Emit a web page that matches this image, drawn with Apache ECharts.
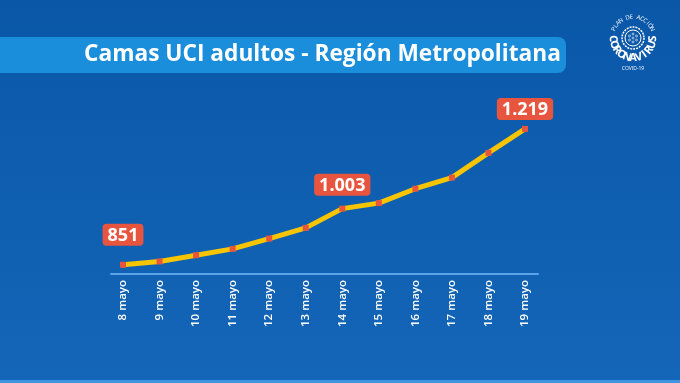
<!DOCTYPE html>
<html><head><meta charset="utf-8">
<script src="https://cdn.jsdelivr.net/npm/echarts@6/dist/echarts.min.js"></script>
<style>html,body{margin:0;padding:0;background:#0b5aab}#c{width:680px;height:383px}</style>
</head><body><div id="c"></div>
<script>
var categories = ['8 mayo','9 mayo','10 mayo','11 mayo','12 mayo','13 mayo','14 mayo','15 mayo','16 mayo','17 mayo','18 mayo','19 mayo'];
var values = [851, 860, 877, 894, 922, 951, 1003, 1018, 1057, 1087, 1154, 1219];
var labeledIndexes = [0, 6, 11];
var titleText = 'Camas UCI adultos - Región Metropolitana';

var labelDist = {0: 16, 6: 10, 11: 6};
function fmt(v){ return String(v).replace(/\B(?=(\d{3})+(?!\d))/g, '.'); }

var seriesData = values.map(function(v, i){
  var item = {value: v};
  if (labeledIndexes.indexOf(i) >= 0) {
    item.label = {show: true, position: 'top', distance: labelDist[i]};
  }
  return item;
});

// logo letters on arcs
var logo = [];
var cx = 633, cy = 38;
function arcText(str, r, a0, a1, size, weight, outward) {
  var n = str.length;
  for (var i = 0; i < n; i++) {
    var a = a0 + (a1 - a0) * (n === 1 ? 0.5 : i / (n - 1));
    var rad = a * Math.PI / 180;
    var x = cx + r * Math.cos(rad), y = cy + r * Math.sin(rad);
    var rot = outward ? -(a + 90) * Math.PI / 180 : -(a - 90) * Math.PI / 180;
    logo.push({type: 'text', x: x, y: y, rotation: rot, z: 20,
      style: {text: str[i], fill: '#ffffff', font: weight + ' ' + size + 'px "Open Sans", sans-serif', align: 'center', verticalAlign: 'middle'}});
  }
}
arcText('CORONAVIRUS', 20, 178, 2, 11, 'bold', false);
arcText('PLAN DE ACCIÓN', 21, 205, 335, 6, 'normal', true);
logo.push({type: 'circle', shape: {cx: cx, cy: cy, r: 11}, style: {fill: 'none', stroke: '#ffffff', lineWidth: 1.5, lineDash: [2, 1]}, z: 20});
logo.push({type: 'circle', shape: {cx: cx, cy: cy, r: 8}, style: {fill: 'none', stroke: '#ffffff', lineWidth: 1}, z: 20});
[[0,0],[3.5,-2],[-3.5,-2],[3.5,2],[-3.5,2],[0,4],[0,-4]].forEach(function(p){
  logo.push({type: 'circle', shape: {cx: cx + p[0], cy: cy + p[1], r: 1}, style: {fill: 'none', stroke: '#ffffff', lineWidth: 0.6}, z: 20});
});
logo.push({type: 'text', x: cx, y: 69, z: 20, style: {text: 'COVID-19', fill: '#ffffff', font: '5px "Open Sans", sans-serif', align: 'center', verticalAlign: 'middle'}});

var chart = echarts.init(document.getElementById('c'), null, {renderer: 'canvas'});
chart.setOption({
  backgroundColor: {type: 'linear', x: 0, y: 0, x2: 0, y2: 1, colorStops: [{offset: 0, color: '#0a57a8'}, {offset: 1, color: '#1466b8'}]},
  animation: false,
  graphic: [
    {type: 'rect', shape: {x: -10, y: 37, width: 576, height: 36, r: 8}, style: {fill: '#1a8ddb'}, z: 1},
    {type: 'text', x: 84, y: 55, z: 2, style: {text: titleText, fill: '#ffffff', font: 'bold 22.7px "Open Sans", sans-serif', verticalAlign: 'middle'}},
    {type: 'rect', shape: {x: 0, y: 380, width: 680, height: 3}, style: {fill: '#3f95e0'}, z: 1}
  ].concat(logo),
  grid: [
    {left: 111, right: 142, top: 99, bottom: 109},
    {left: 123, right: 155, top: 99, bottom: 109}
  ],
  xAxis: [
    {gridIndex: 0, type: 'value', min: 0, max: 1, axisLine: {show: true, lineStyle: {color: '#5ba3e6', width: 2}}, axisTick: {show: false}, axisLabel: {show: false}, splitLine: {show: false}},
    {gridIndex: 1, type: 'category', data: categories, boundaryGap: false,
     axisLine: {show: false}, axisTick: {show: false}, splitLine: {show: false},
     axisLabel: {rotate: 90, color: '#ffffff', fontSize: 11.5, fontWeight: 600, fontFamily: '"Open Sans", sans-serif', margin: 6, interval: 0}}
  ],
  yAxis: [
    {gridIndex: 0, type: 'value', min: 0, max: 1, show: false},
    {gridIndex: 1, type: 'value', min: 826, max: 1300, show: false}
  ],
  series: [{
    type: 'line', xAxisIndex: 1, yAxisIndex: 1, data: seriesData,
    lineStyle: {color: '#f6c500', width: 5},
    symbol: 'rect', symbolSize: 6, itemStyle: {color: '#e8553f'},
    label: {show: false, formatter: function(p){ return fmt(p.value); }, color: '#ffffff', fontSize: 18, fontWeight: 'bold', fontFamily: '"Open Sans", sans-serif', backgroundColor: '#e8553f', borderRadius: 4, padding: [3, 5, 1, 5]}
  }]
});
</script></body></html>
